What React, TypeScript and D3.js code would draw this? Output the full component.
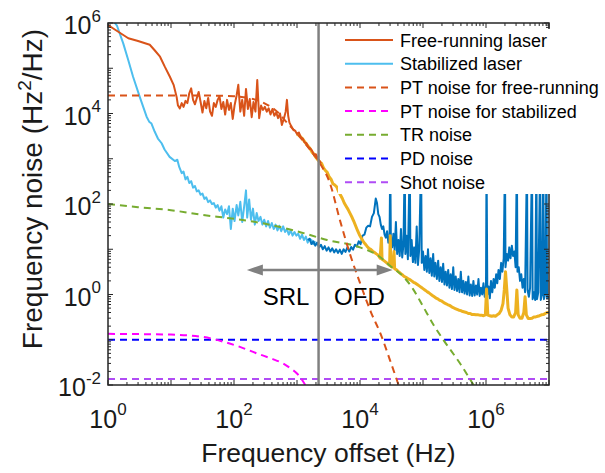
import React from 'react';
import * as d3 from 'd3';

type P = [number, number];

// ---------- axis settings ----------
const xDomain: [number, number] = [1, 1e7];
const yDomain: [number, number] = [1e-2, 1e6];
const xLabelExponents = [0, 2, 4, 6];
const yLabelExponents = [-2, 0, 2, 4, 6];
const xTitle = 'Frequency offset (Hz)';

// ---------- measured spectra (Hz, Hz^2/Hz) ----------
const freeRunningLaser: P[] = [
  [1.0, 9.0e5], [1.3, 7.1e5], [2.1, 4.6e5], [3.0, 4.0e5], [4.6, 3.3e5], [5.5, 2.5e5], [6.7, 1.8e5],
  [8.0, 1.07e5], [9.6, 6.5e4], [11.0, 4.3e4], [12.3, 2.3e4], [12.9, 1.5e4],
  [13.8, 1.3e4], [14.8, 1.7e4], [15.8, 1.4e4], [17.0, 1.9e4], [18.2, 1.7e4], [19.5, 2.8e4], [20.9, 3.6e4],
  [22.4, 2.0e4], [24.0, 1.6e4], [25.7, 2.2e4], [27.5, 3.0e4], [29.5, 1.8e4], [31.6, 1.05e4], [33.9, 1.9e4],
  [36.3, 1.3e4], [38.9, 2.2e4], [41.7, 1.1e4], [44.7, 8.9e3], [47.9, 1.7e4], [51.3, 1.4e4], [55.0, 2.0e4],
  [58.9, 2.4e4], [63.1, 1.26e4], [67.6, 1.8e4], [72.4, 9.5e3], [77.6, 2.0e4], [83.2, 1.2e4], [89.1, 1.7e4],
  [95.5, 7.6e3], [102, 1.5e4], [110, 2.5e4], [117, 4.3e4], [126, 1.1e4], [135, 2.0e4], [145, 8.9e3],
  [155, 3.5e4], [166, 1.26e4], [178, 2.1e4], [191, 8.3e3], [204, 1.8e4], [219, 1.1e4], [234, 5.5e4],
  [251, 7.9e3], [269, 1.5e4], [288, 1.2e4], [309, 1.4e4], [331, 1.1e4], [355, 1.3e4], [380, 9.5e3],
  [407, 1.26e4], [437, 8.9e3], [468, 1.05e4], [501, 7.9e3], [537, 1.0e4], [575, 5.6e3], [617, 7.6e3],
  [661, 1.1e4], [692, 2.0e4], [724, 8.9e3], [759, 6.3e3], [813, 5.2e3], [871, 4.4e3], [933, 4.2e3],
  [1000, 3.5e3], [1072, 3.8e3], [1148, 3.0e3], [1230, 2.8e3], [1318, 2.3e3], [1413, 2.2e3], [1514, 1.8e3],
  [1622, 1.7e3], [1738, 1.5e3], [1862, 1.2e3], [1995, 1.26e3], [2138, 1.0e3], [2291, 890], [2400, 790],
];

const stabilizedLaser: P[] = [
  [1.1, 1.3e6], [1.38, 8.9e5], [1.75, 3.5e5], [2.1, 1.5e5], [2.5, 6.5e4], [3.2, 2.3e4], [4.1, 8.5e3],
  [4.5, 6.6e3], [4.9, 6.0e3], [5.5, 4.0e3], [6.2, 2.8e3], [7.1, 2.2e3], [7.9, 1.6e3], [9.5, 1.1e3],
  [11.5, 890], [12.6, 950], [13.5, 660], [14.8, 480], [15.8, 520], [17.0, 350], [18.2, 400], [19.5, 290],
  [20.9, 320], [22.4, 230], [24.0, 250], [25.7, 190], [27.5, 200], [29.5, 160], [31.6, 170], [33.9, 130],
  [36.3, 140], [38.9, 110], [41.7, 120], [44.7, 100], [47.9, 105], [51.3, 83], [55.0, 95], [58.9, 71],
  [63.1, 89], [67.6, 50], [72.4, 76], [77.6, 60], [83.2, 89], [89.1, 28], [95.5, 79], [102, 42], [110, 95],
  [117, 56], [126, 112], [135, 40], [145, 89], [155, 200], [162, 50], [174, 126], [186, 45], [200, 79],
  [214, 35], [229, 63], [245, 42], [263, 52], [282, 35], [302, 45], [324, 32], [347, 42], [372, 30],
  [398, 38], [427, 28], [457, 35], [490, 26], [525, 33], [562, 25], [603, 32], [646, 24], [692, 28],
  [741, 21], [794, 26], [851, 20], [912, 24], [977, 20], [1047, 22], [1122, 17], [1202, 21], [1288, 16],
  [1380, 19], [1479, 14], [1585, 17], [1698, 16], [1820, 13], [1950, 15],
];

// optical frequency discriminator (OFD) part of the stabilized laser
const stabilizedOFD: P[] = [
  [1480, 16], [1585, 17], [1698, 13], [1820, 15], [1950, 12], [2089, 14], [2239, 11], [2399, 12.6],
  [2570, 10], [2754, 11.7], [2951, 9.3], [3162, 11], [3388, 8.9], [3631, 10.5], [3890, 8.5], [4169, 10],
  [4467, 8.3], [4786, 9.8], [5129, 7.9], [5495, 10], [5888, 8.7], [6310, 11], [6761, 8.9], [7244, 11.2],
  [7762, 9.8], [8318, 12.6], [8913, 11.5], [9550, 15], [10230, 13], [10960, 20], [11750, 21], [12590, 30],
  [13490, 33], [14450, 32], [15490, 52], [16600, 63], [17780, 132], [18620, 105], [19500, 60], [20420, 52],
  [21380, 35], [22390, 28], [23440, 32], [24550, 21], [25700, 18], [26920, 25], [28180, 14], [29510, 20],
  [30200, 1000], [30900, 16], [32360, 11], [33880, 22], [35480, 9.5], [37150, 40], [38900, 7.9], [40740, 16],
  [42660, 7.1], [44670, 28], [46770, 6.6], [48980, 12.6], [51290, 1000], [52480, 7.9], [54950, 20],
  [57540, 6.0], [61660, 1000], [63100, 7.1], [66070, 16], [69180, 5.2], [72440, 11], [75860, 5.0],
  [79430, 32], [83180, 4.5], [87100, 10], [93330, 1000], [95500, 5.0], [1.0e5, 8.9], [1.05e5, 3.5],
  [1.10e5, 7.1], [1.15e5, 3.2], [1.20e5, 10], [1.26e5, 3.0], [1.32e5, 6.3], [1.38e5, 2.6], [1.45e5, 7.9],
  [1.51e5, 2.5], [1.58e5, 5.0], [1.66e5, 2.2], [1.74e5, 5.6], [1.82e5, 2.0], [1.91e5, 4.0], [2.00e5, 1.9],
  [2.09e5, 4.8], [2.19e5, 1.66], [2.29e5, 3.2], [2.40e5, 1.58], [2.51e5, 3.5], [2.63e5, 1.41], [2.75e5, 2.8],
  [2.88e5, 1.32], [3.02e5, 4.0], [3.16e5, 1.26], [3.31e5, 2.5], [3.47e5, 1.2], [3.63e5, 2.2], [3.80e5, 1.12],
  [3.98e5, 3.2], [4.17e5, 1.12], [4.37e5, 2.0], [4.57e5, 1.05], [4.79e5, 1.9], [5.01e5, 1.0], [5.25e5, 2.5],
  [5.50e5, 0.95], [5.75e5, 1.66], [6.03e5, 0.93], [6.31e5, 2.0], [6.61e5, 0.95], [6.92e5, 1.58], [7.24e5, 1.0],
  [7.59e5, 2.2], [7.94e5, 0.93], [8.32e5, 1.41], [8.71e5, 1.0], [9.12e5, 1.78], [9.55e5, 0.89], [1.0e6, 1.58],
  [1.02e6, 1000], [1.05e6, 1.0], [1.10e6, 1.5], [1.15e6, 0.83], [1.20e6, 2.0], [1.26e6, 1.12], [1.32e6, 2.2],
  [1.38e6, 1.41], [1.45e6, 2.8], [1.51e6, 1.78], [1.58e6, 3.5], [1.66e6, 2.2], [1.74e6, 5.0], [1.82e6, 3.2],
  [1.91e6, 6.3], [2.00e6, 1000], [2.04e6, 4.0], [2.14e6, 7.9], [2.24e6, 5.6], [2.34e6, 11], [2.45e6, 6.3],
  [2.57e6, 12], [2.69e6, 7.1], [2.82e6, 8.9], [2.95e6, 4.0], [3.09e6, 1000], [3.16e6, 3.2], [3.31e6, 4.0],
  [3.47e6, 2.0], [3.63e6, 2.8], [3.80e6, 1.41], [3.98e6, 2.2], [4.17e6, 1.12], [4.47e6, 1000], [4.57e6, 1.26],
  [4.79e6, 0.89], [5.01e6, 1.41], [5.37e6, 1000], [5.50e6, 0.79], [5.75e6, 1.12], [6.03e6, 0.76],
  [6.31e6, 1000], [6.46e6, 0.79], [6.76e6, 1.12], [7.24e6, 1000], [7.41e6, 0.76], [7.76e6, 1.0],
  [8.13e6, 1000], [8.32e6, 0.79], [8.71e6, 1.05], [9.12e6, 1000], [9.33e6, 0.83], [1.0e7, 0.89],
];

// OFD part of the free-running laser
const freeRunningOFD: P[] = [
  [1000, 3.5e3], [1072, 3.3e3], [1148, 3.0e3], [1230, 2.75e3], [1318, 2.4e3], [1413, 2.1e3], [1514, 1.86e3],
  [1622, 1.66e3], [1738, 1.38e3], [1862, 1.26e3], [1995, 1.07e3], [2138, 950], [2291, 850], [2455, 790],
  [2630, 630], [2818, 550], [3020, 500], [3236, 400], [3467, 355], [3715, 280], [3981, 263], [4266, 240],
  [4571, 190], [4898, 158], [5248, 132], [5623, 105], [6026, 89], [6457, 76], [6918, 63], [7413, 52],
  [7943, 42], [8511, 33], [9120, 26], [9772, 21], [10470, 17.8], [11220, 15], [12020, 13.2], [12880, 11.7],
  [13800, 10.5], [14790, 10], [15850, 9.1], [16980, 8.5], [18200, 7.9], [19500, 7.4], [20890, 6.3],
  [21880, 17.8], [22390, 6.0], [23990, 5.6], [25700, 5.2], [27540, 4.8], [29510, 4.4], [30200, 20],
  [30900, 4.2], [33110, 4.0], [34670, 8.9], [35480, 3.7], [38020, 3.5], [40740, 3.2], [43650, 2.95],
  [46770, 2.75], [50120, 2.5], [53700, 2.4], [57540, 2.24], [61660, 2.14], [66070, 2.0], [70790, 1.86],
  [75860, 1.78], [81280, 1.66], [87100, 1.55], [93330, 1.45], [1.0e5, 1.35], [1.07e5, 1.26], [1.15e5, 1.17],
  [1.23e5, 1.1], [1.32e5, 1.02], [1.41e5, 0.95], [1.51e5, 0.89], [1.62e5, 0.83], [1.74e5, 0.79], [1.86e5, 0.74],
  [2.0e5, 0.71], [2.14e5, 0.66], [2.29e5, 0.63], [2.45e5, 0.6], [2.63e5, 0.575], [2.82e5, 0.54], [3.02e5, 0.51],
  [3.24e5, 0.49], [3.47e5, 0.47], [3.72e5, 0.45], [3.98e5, 0.44], [4.27e5, 0.42], [4.57e5, 0.41], [4.90e5, 0.4],
  [5.25e5, 0.38], [5.62e5, 0.38], [6.03e5, 0.36], [6.46e5, 0.36], [6.92e5, 0.355], [7.41e5, 0.355], [7.94e5, 0.35],
  [8.51e5, 0.35], [9.12e5, 0.34], [9.77e5, 0.355], [1.02e6, 1.32], [1.07e6, 0.35], [1.15e6, 0.34], [1.23e6, 0.33],
  [1.32e6, 0.34], [1.41e6, 0.33], [1.51e6, 0.355], [1.62e6, 0.38], [1.74e6, 0.45], [1.86e6, 0.63], [1.95e6, 1.26],
  [2.04e6, 3.2], [2.14e6, 1.26], [2.24e6, 0.5], [2.40e6, 0.355], [2.57e6, 0.32], [2.75e6, 0.32], [2.95e6, 0.4],
  [3.09e6, 1.26], [3.24e6, 0.355], [3.47e6, 0.3], [3.72e6, 0.3], [3.98e6, 0.4], [4.17e6, 0.89], [4.37e6, 0.355],
  [4.68e6, 0.295], [5.01e6, 0.295], [5.37e6, 0.3], [5.75e6, 0.32], [6.17e6, 0.32], [6.61e6, 0.33], [7.08e6, 0.34],
  [7.59e6, 0.355], [8.13e6, 0.36], [8.71e6, 0.38], [9.33e6, 0.4], [1.0e7, 0.4],
];

// ---------- noise models ----------
const ptNoiseFreeRunning: P[] = [
  [1, 2.5e4], [30, 2.5e4], [100, 2.4e4], [200, 2.1e4], [300, 1.7e4], [500, 1.05e4], [700, 6.2e3],
  [1000, 3.6e3], [1500, 1.8e3], [2300, 800], [3300, 300], [4800, 44], [7000, 7.5], [1e4, 1.8],
  [1.5e4, 0.4], [2.1e4, 0.14], [3e4, 0.035], [4.2e4, 0.009],
];
const ptNoiseStabilized: P[] = [
  [1, 0.135], [10, 0.13], [30, 0.117], [67, 0.091], [130, 0.068], [230, 0.05], [400, 0.038],
  [600, 0.03], [800, 0.023], [1000, 0.018], [1250, 0.012], [1380, 0.0095],
];
const trNoise: P[] = [
  [1, 100], [3, 85], [10, 73], [30, 58], [100, 47], [300, 37], [1000, 25], [3000, 16], [1e4, 11],
  [2e4, 7], [3e4, 4.3], [5e4, 2.4], [7e4, 1.3], [1e5, 0.55], [1.45e5, 0.22], [2.1e5, 0.1],
  [4e5, 0.028], [6.5e5, 0.0095],
];
const pdNoise: P[] = [[1, 0.1], [1e7, 0.1]];
const shotNoise: P[] = [[1, 0.0136], [1e7, 0.0136]];

// ---------- annotations ----------
const splitFrequency = 2200;
const arrowSpan: [number, number] = [160, 3.3e4];
const arrowLevel = 3.48;
const srlLabel = { text: 'SRL', f: 670, v: 0.586 };
const ofdLabel = { text: 'OFD', f: 9800, v: 0.586 };

const legendLabels = [
  'Free-running laser',
  'Stabilized laser',
  'PT noise for free-running',
  'PT noise for stabilized',
  'TR noise',
  'PD noise',
  'Shot noise',
];

const C = {
  orange: '#D95319',
  lightBlue: '#4DBEEE',
  darkBlue: '#0072BD',
  yellow: '#EDB120',
  magenta: '#FF00FF',
  green: '#77AC30',
  blue: '#0000FF',
  purple: '#B04CF5',
  gray: '#808080',
  text: '#1a1a1a',
  axis: '#262626',
};

const W = 605;
const H = 473;
const M = { left: 108, right: 56, top: 23, bottom: 88 };
const FONT = "'Liberation Sans', Arial, Helvetica, sans-serif";

export default function App() {
  const innerW = W - M.left - M.right;
  const innerH = H - M.top - M.bottom;
  const x = d3.scaleLog().domain(xDomain).range([M.left, M.left + innerW]);
  const y = d3.scaleLog().domain(yDomain).range([M.top + innerH, M.top]);

  const raw = d3.line<P>().x(d => x(d[0])).y(d => y(d[1]));
  const smooth = d3.line<P>().x(d => x(d[0])).y(d => y(d[1])).curve(d3.curveMonotoneX);

  const x0 = M.left, x1 = M.left + innerW, y0 = M.top, y1 = M.top + innerH;

  const xTicks: { v: number; major: boolean }[] = [];
  for (let e = 0; e < 7; e++) for (let m = 1; m < 10; m++) xTicks.push({ v: m * Math.pow(10, e), major: m === 1 });
  xTicks.push({ v: 1e7, major: true });
  const yTicks: { v: number; major: boolean }[] = [];
  for (let e = -2; e < 6; e++) for (let m = 1; m < 10; m++) yTicks.push({ v: m * Math.pow(10, e), major: m === 1 });
  yTicks.push({ v: 1e6, major: true });

  const majorLen = 5, minorLen = 3;

  const legendStyles = [
    { color: C.orange, dash: undefined },
    { color: C.lightBlue, dash: undefined },
    { color: C.orange, dash: '7,5' },
    { color: C.magenta, dash: '7,5' },
    { color: C.green, dash: '7,5' },
    { color: C.blue, dash: '7,5' },
    { color: C.purple, dash: '7,5' },
  ];

  const ax0 = x(arrowSpan[0]);
  const ax1 = x(arrowSpan[1]);
  const ay = y(arrowLevel);
  const head = 16, hw = 5.5;

  return (
    <svg width={W} height={H} style={{ position: 'absolute', left: 0, top: 0, background: '#fff' }} fontFamily={FONT}>
      <defs>
        <clipPath id="plot-clip">
          <rect x={x0} y={y0} width={innerW} height={innerH} />
        </clipPath>
      </defs>

      <g clipPath="url(#plot-clip)" fill="none" strokeLinejoin="round">
        <path d={raw(stabilizedLaser) || ''} stroke={C.lightBlue} strokeWidth={2} />
        <path d={raw(stabilizedOFD) || ''} stroke={C.darkBlue} strokeWidth={2} />
        <path d={raw(freeRunningOFD) || ''} stroke={C.yellow} strokeWidth={3} />
        <path d={raw(freeRunningLaser) || ''} stroke={C.orange} strokeWidth={2} />
        <path d={smooth(pdNoise) || ''} stroke={C.blue} strokeWidth={2} strokeDasharray="7,5" />
        <path d={smooth(shotNoise) || ''} stroke={C.purple} strokeWidth={2} strokeDasharray="7,5" />
        <path d={smooth(ptNoiseStabilized) || ''} stroke={C.magenta} strokeWidth={2} strokeDasharray="7,5" />
        <path d={smooth(trNoise) || ''} stroke={C.green} strokeWidth={2} strokeDasharray="7,5" />
        <path d={smooth(ptNoiseFreeRunning) || ''} stroke={C.orange} strokeWidth={2} strokeDasharray="7,5" />
      </g>

      {/* split line */}
      <line x1={x(splitFrequency)} x2={x(splitFrequency)} y1={y0} y2={y1} stroke={C.gray} strokeWidth={2.5} />

      {/* double arrow */}
      <line x1={ax0 + head - 2} x2={ax1 - head + 2} y1={ay} y2={ay} stroke={C.gray} strokeWidth={2.5} />
      <polygon points={`${ax0},${ay} ${ax0 + head},${ay - hw} ${ax0 + head},${ay + hw}`} fill={C.gray} />
      <polygon points={`${ax1},${ay} ${ax1 - head},${ay - hw} ${ax1 - head},${ay + hw}`} fill={C.gray} />

      {[srlLabel, ofdLabel].map(l => (
        <text key={l.text} x={x(l.f)} y={y(l.v)} textAnchor="middle" fontSize={24} fill="#000">{l.text}</text>
      ))}

      {/* axes box */}
      <rect x={x0} y={y0} width={innerW} height={innerH} fill="none" stroke={C.axis} strokeWidth={1.5} />
      <g stroke={C.axis} strokeWidth={1}>
        {xTicks.map((t, i) => {
          const px = x(t.v);
          const len = t.major ? majorLen : minorLen;
          return (
            <g key={'xt' + i}>
              <line x1={px} x2={px} y1={y1} y2={y1 - len} />
              <line x1={px} x2={px} y1={y0} y2={y0 + len} />
            </g>
          );
        })}
        {yTicks.map((t, i) => {
          const py = y(t.v);
          const len = t.major ? majorLen : minorLen;
          return (
            <g key={'yt' + i}>
              <line x1={x0} x2={x0 + len} y1={py} y2={py} />
              <line x1={x1} x2={x1 - len} y1={py} y2={py} />
            </g>
          );
        })}
      </g>

      {/* tick labels */}
      {xLabelExponents.map(e => (
        <text key={'xl' + e} x={x(Math.pow(10, e))} y={y1 + 43} textAnchor="middle" fontSize={25} fill={C.text}>
          10<tspan dy={-13} fontSize={17}>{e}</tspan>
        </text>
      ))}
      {yLabelExponents.map(e => (
        <text key={'yl' + e} x={x0 - 7} y={y(Math.pow(10, e)) + 11} textAnchor="end" fontSize={25} fill={C.text}>
          10<tspan dy={-12.5} fontSize={17}>{e}</tspan>
        </text>
      ))}

      {/* axis titles */}
      <text x={(x0 + x1) / 2} y={462} textAnchor="middle" fontSize={26.5} fill={C.text}>{xTitle}</text>
      <text transform={`translate(42, 189) rotate(-90)`} textAnchor="middle" fontSize={28} fill={C.text}>
        Frequency noise (Hz<tspan dy={-11} fontSize={19}>2</tspan><tspan dy={11}>/Hz)</tspan>
      </text>

      {/* legend */}
      <rect x={338} y={29} width={W - 338} height={165} fill="#fff" />
      {legendLabels.map((label, i) => {
        const ly = 40 + i * 23.7;
        const s = legendStyles[i];
        return (
          <g key={label}>
            <line x1={345} x2={393} y1={ly} y2={ly} stroke={s.color} strokeWidth={2} strokeDasharray={s.dash} />
            <text x={400} y={ly + 6.5} fontSize={18} fill="#000">{label}</text>
          </g>
        );
      })}
    </svg>
  );
}
